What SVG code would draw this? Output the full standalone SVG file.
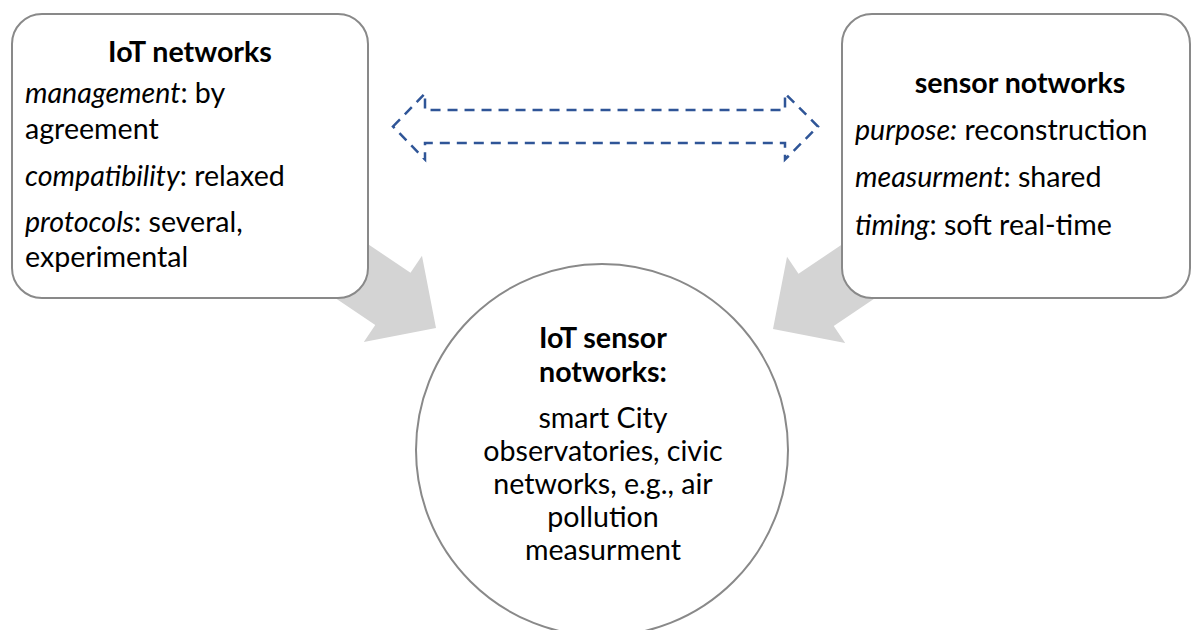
<svg xmlns="http://www.w3.org/2000/svg" width="1193" height="630" viewBox="0 0 1193 630">
<style>
.box{fill:#fff;stroke:#898989;stroke-width:2}
.big{fill:#D4D4D4;stroke:none}
.t{font-family:Lato,"Liberation Sans",sans-serif;font-size:28.6px;fill:#000}
.h{font-weight:bold}
.i{font-style:italic}
.dash{fill:none;stroke:#2F5597;stroke-width:2.5;stroke-dasharray:10 7}
</style>
<defs>
<polygon id="bigArrow" points="0,0 -52,-52 -52,-31.5 -150,-31.5 -150,31.5 -52,31.5 -52,52"/>
</defs>
<rect width="1193" height="630" fill="#fff"/>
<g id="connectors">
<use href="#bigArrow" class="big" transform="translate(436,328) rotate(34)"/>
<use href="#bigArrow" class="big" transform="translate(773,329) rotate(146)"/>
<polygon class="dash" points="393,126.5 425,93.5 425,110 785,110 785,93.5 818,126.5 785,159.5 785,143 425,143 425,159.5"/>
</g>
<g id="iot-networks">
<rect class="box" x="12" y="14" width="356" height="284" rx="30"/>
<text class="t h" x="190" y="62" text-anchor="middle">IoT networks</text>
<text class="t" x="25" y="103"><tspan class="i">management</tspan>: by</text>
<text class="t" x="25" y="139">agreement</text>
<text class="t" x="25" y="186"><tspan class="i">compatibility</tspan>: relaxed</text>
<text class="t" x="25" y="232"><tspan class="i">protocols</tspan>: several,</text>
<text class="t" x="25" y="267">experimental</text>
</g>
<g id="sensor-networks">
<rect class="box" x="842" y="14" width="348" height="284" rx="30"/>
<text class="t h" x="1020" y="93" text-anchor="middle">sensor notworks</text>
<text class="t" x="855" y="140"><tspan class="i">purpose:</tspan> reconstruction</text>
<text class="t" x="855" y="187"><tspan class="i">measurment</tspan>: shared</text>
<text class="t" x="855" y="235"><tspan class="i">timing</tspan>: soft real-time</text>
</g>
<g id="iot-sensor-networks">
<circle class="box" cx="602" cy="450" r="186"/>
<text class="t h" x="603" y="348" text-anchor="middle">IoT sensor</text>
<text class="t h" x="603" y="382" text-anchor="middle">notworks:</text>
<text class="t" x="603" y="428" text-anchor="middle">smart City</text>
<text class="t" x="603" y="461" text-anchor="middle">observatories, civic</text>
<text class="t" x="603" y="494" text-anchor="middle">networks, e.g., air</text>
<text class="t" x="603" y="527" text-anchor="middle">pollution</text>
<text class="t" x="603" y="560" text-anchor="middle">measurment</text>
</g>
</svg>
